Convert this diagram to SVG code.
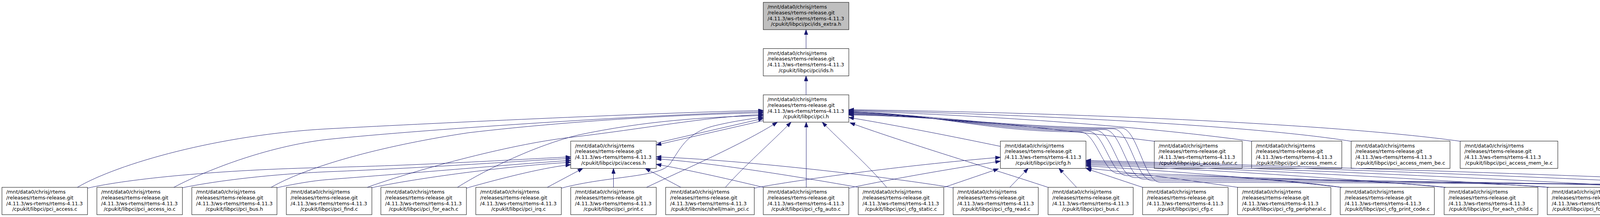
<svg xmlns="http://www.w3.org/2000/svg" width="4927" height="556" viewBox="0 0 4927 556">
<defs>
<style>
.node rect{fill:#ffffff;stroke:#000000;stroke-width:1}
.node text{font-family:"DejaVu Sans",sans-serif;font-size:12.85px;fill:#000000}
.node text.c{text-anchor:middle}
#edges path{fill:none;stroke:#191970;stroke-width:1;marker-end:url(#arr)}
</style>
<marker id="arr" markerUnits="userSpaceOnUse" markerWidth="15" markerHeight="11" refX="13" refY="4.65" orient="auto"><path d="M0,0L13,4.65L0,9.3z" fill="#191970" stroke="#191970" stroke-width="1"/></marker>
</defs>
<rect x="0" y="0" width="4927" height="556" fill="#ffffff"/>
<g id="nodes">
<g id="n_ids_extra_h" class="node"><rect x="1954" y="6" width="219" height="70" style="fill:#bfbfbf"/><text x="1965" y="22">/mnt/data0/chrisj/rtems</text><text x="1965" y="36.8">/releases/rtems-release.git</text><text x="1965" y="51.6">/4.11.3/ws-rtems/rtems-4.11.3</text><text class="c" x="2063.5" y="66.4">/cpukit/libpci/pci/ids_extra.h</text></g>
<g id="n_ids_h" class="node"><rect x="1954" y="124.5" width="219" height="70"/><text x="1965" y="140.5">/mnt/data0/chrisj/rtems</text><text x="1965" y="155.3">/releases/rtems-release.git</text><text x="1965" y="170.1">/4.11.3/ws-rtems/rtems-4.11.3</text><text class="c" x="2063.5" y="184.9">/cpukit/libpci/pci/ids.h</text></g>
<g id="n_pci_h" class="node"><rect x="1954" y="243" width="219" height="70"/><text x="1965" y="259">/mnt/data0/chrisj/rtems</text><text x="1965" y="273.8">/releases/rtems-release.git</text><text x="1965" y="288.6">/4.11.3/ws-rtems/rtems-4.11.3</text><text class="c" x="2063.5" y="303.4">/cpukit/libpci/pci.h</text></g>
<g id="n_access_h" class="node"><rect x="1461" y="361.5" width="219" height="70"/><text x="1472" y="377.5">/mnt/data0/chrisj/rtems</text><text x="1472" y="392.3">/releases/rtems-release.git</text><text x="1472" y="407.1">/4.11.3/ws-rtems/rtems-4.11.3</text><text class="c" x="1570.5" y="421.9">/cpukit/libpci/pci/access.h</text></g>
<g id="n_cfg_h" class="node"><rect x="2561" y="361.5" width="219" height="70"/><text x="2572" y="377.5">/mnt/data0/chrisj/rtems</text><text x="2572" y="392.3">/releases/rtems-release.git</text><text x="2572" y="407.1">/4.11.3/ws-rtems/rtems-4.11.3</text><text class="c" x="2670.5" y="421.9">/cpukit/libpci/pci/cfg.h</text></g>
<g id="n_pci_access_func_c" class="node"><rect x="2955" y="361.5" width="225" height="70"/><text x="2966" y="377.5">/mnt/data0/chrisj/rtems</text><text x="2966" y="392.3">/releases/rtems-release.git</text><text x="2966" y="407.1">/4.11.3/ws-rtems/rtems-4.11.3</text><text class="c" x="3067.5" y="421.9">/cpukit/libpci/pci_access_func.c</text></g>
<g id="n_pci_access_mem_c" class="node"><rect x="3204" y="361.5" width="231" height="70"/><text x="3215" y="377.5">/mnt/data0/chrisj/rtems</text><text x="3215" y="392.3">/releases/rtems-release.git</text><text x="3215" y="407.1">/4.11.3/ws-rtems/rtems-4.11.3</text><text class="c" x="3319.5" y="421.9">/cpukit/libpci/pci_access_mem.c</text></g>
<g id="n_pci_access_mem_be_c" class="node"><rect x="3459" y="361.5" width="253" height="70"/><text x="3470" y="377.5">/mnt/data0/chrisj/rtems</text><text x="3470" y="392.3">/releases/rtems-release.git</text><text x="3470" y="407.1">/4.11.3/ws-rtems/rtems-4.11.3</text><text class="c" x="3585.5" y="421.9">/cpukit/libpci/pci_access_mem_be.c</text></g>
<g id="n_pci_access_mem_le_c" class="node"><rect x="3738" y="361.5" width="250" height="70"/><text x="3749" y="377.5">/mnt/data0/chrisj/rtems</text><text x="3749" y="392.3">/releases/rtems-release.git</text><text x="3749" y="407.1">/4.11.3/ws-rtems/rtems-4.11.3</text><text class="c" x="3863" y="421.9">/cpukit/libpci/pci_access_mem_le.c</text></g>
<g id="n_pci_access_c" class="node"><rect x="5" y="480" width="219" height="70"/><text x="16" y="496">/mnt/data0/chrisj/rtems</text><text x="16" y="510.8">/releases/rtems-release.git</text><text x="16" y="525.6">/4.11.3/ws-rtems/rtems-4.11.3</text><text class="c" x="114.5" y="540.4">/cpukit/libpci/pci_access.c</text></g>
<g id="n_pci_access_io_c" class="node"><rect x="248" y="480" width="219" height="70"/><text x="259" y="496">/mnt/data0/chrisj/rtems</text><text x="259" y="510.8">/releases/rtems-release.git</text><text x="259" y="525.6">/4.11.3/ws-rtems/rtems-4.11.3</text><text class="c" x="357.5" y="540.4">/cpukit/libpci/pci_access_io.c</text></g>
<g id="n_pci_bus_h" class="node"><rect x="491" y="480" width="218" height="70"/><text x="502" y="496">/mnt/data0/chrisj/rtems</text><text x="502" y="510.8">/releases/rtems-release.git</text><text x="502" y="525.6">/4.11.3/ws-rtems/rtems-4.11.3</text><text class="c" x="600" y="540.4">/cpukit/libpci/pci_bus.h</text></g>
<g id="n_pci_find_c" class="node"><rect x="733" y="480" width="219" height="70"/><text x="744" y="496">/mnt/data0/chrisj/rtems</text><text x="744" y="510.8">/releases/rtems-release.git</text><text x="744" y="525.6">/4.11.3/ws-rtems/rtems-4.11.3</text><text class="c" x="842.5" y="540.4">/cpukit/libpci/pci_find.c</text></g>
<g id="n_pci_for_each_c" class="node"><rect x="975" y="480" width="219" height="70"/><text x="986" y="496">/mnt/data0/chrisj/rtems</text><text x="986" y="510.8">/releases/rtems-release.git</text><text x="986" y="525.6">/4.11.3/ws-rtems/rtems-4.11.3</text><text class="c" x="1084.5" y="540.4">/cpukit/libpci/pci_for_each.c</text></g>
<g id="n_pci_irq_c" class="node"><rect x="1218" y="480" width="219" height="70"/><text x="1229" y="496">/mnt/data0/chrisj/rtems</text><text x="1229" y="510.8">/releases/rtems-release.git</text><text x="1229" y="525.6">/4.11.3/ws-rtems/rtems-4.11.3</text><text class="c" x="1327.5" y="540.4">/cpukit/libpci/pci_irq.c</text></g>
<g id="n_pci_print_c" class="node"><rect x="1461" y="480" width="219" height="70"/><text x="1472" y="496">/mnt/data0/chrisj/rtems</text><text x="1472" y="510.8">/releases/rtems-release.git</text><text x="1472" y="525.6">/4.11.3/ws-rtems/rtems-4.11.3</text><text class="c" x="1570.5" y="540.4">/cpukit/libpci/pci_print.c</text></g>
<g id="n_main_pci_c" class="node"><rect x="1704" y="480" width="227" height="70"/><text x="1715.5" y="496">/mnt/data0/chrisj/rtems</text><text x="1715.5" y="510.8">/releases/rtems-release.git</text><text x="1715.5" y="525.6">/4.11.3/ws-rtems/rtems-4.11.3</text><text class="c" x="1817.5" y="540.4">/cpukit/libmisc/shell/main_pci.c</text></g>
<g id="n_pci_cfg_auto_c" class="node"><rect x="1954" y="480" width="219" height="70"/><text x="1965" y="496">/mnt/data0/chrisj/rtems</text><text x="1965" y="510.8">/releases/rtems-release.git</text><text x="1965" y="525.6">/4.11.3/ws-rtems/rtems-4.11.3</text><text class="c" x="2063.5" y="540.4">/cpukit/libpci/pci_cfg_auto.c</text></g>
<g id="n_pci_cfg_static_c" class="node"><rect x="2197" y="480" width="219" height="70"/><text x="2208" y="496">/mnt/data0/chrisj/rtems</text><text x="2208" y="510.8">/releases/rtems-release.git</text><text x="2208" y="525.6">/4.11.3/ws-rtems/rtems-4.11.3</text><text class="c" x="2306.5" y="540.4">/cpukit/libpci/pci_cfg_static.c</text></g>
<g id="n_pci_cfg_read_c" class="node"><rect x="2440" y="480" width="218" height="70"/><text x="2451" y="496">/mnt/data0/chrisj/rtems</text><text x="2451" y="510.8">/releases/rtems-release.git</text><text x="2451" y="525.6">/4.11.3/ws-rtems/rtems-4.11.3</text><text class="c" x="2549" y="540.4">/cpukit/libpci/pci_cfg_read.c</text></g>
<g id="n_pci_bus_c" class="node"><rect x="2683" y="480" width="218" height="70"/><text x="2694" y="496">/mnt/data0/chrisj/rtems</text><text x="2694" y="510.8">/releases/rtems-release.git</text><text x="2694" y="525.6">/4.11.3/ws-rtems/rtems-4.11.3</text><text class="c" x="2792" y="540.4">/cpukit/libpci/pci_bus.c</text></g>
<g id="n_pci_cfg_c" class="node"><rect x="2925" y="480" width="219" height="70"/><text x="2936" y="496">/mnt/data0/chrisj/rtems</text><text x="2936" y="510.8">/releases/rtems-release.git</text><text x="2936" y="525.6">/4.11.3/ws-rtems/rtems-4.11.3</text><text class="c" x="3034.5" y="540.4">/cpukit/libpci/pci_cfg.c</text></g>
<g id="n_pci_cfg_peripheral_c" class="node"><rect x="3168" y="480" width="239" height="70"/><text x="3179.5" y="496">/mnt/data0/chrisj/rtems</text><text x="3179.5" y="510.8">/releases/rtems-release.git</text><text x="3179.5" y="525.6">/4.11.3/ws-rtems/rtems-4.11.3</text><text class="c" x="3287.5" y="540.4">/cpukit/libpci/pci_cfg_peripheral.c</text></g>
<g id="n_pci_cfg_print_code_c" class="node"><rect x="3431" y="480" width="241" height="70"/><text x="3442.5" y="496">/mnt/data0/chrisj/rtems</text><text x="3442.5" y="510.8">/releases/rtems-release.git</text><text x="3442.5" y="525.6">/4.11.3/ws-rtems/rtems-4.11.3</text><text class="c" x="3551.5" y="540.4">/cpukit/libpci/pci_cfg_print_code.c</text></g>
<g id="n_pci_for_each_child_c" class="node"><rect x="3697" y="480" width="240" height="70"/><text x="3708.5" y="496">/mnt/data0/chrisj/rtems</text><text x="3708.5" y="510.8">/releases/rtems-release.git</text><text x="3708.5" y="525.6">/4.11.3/ws-rtems/rtems-4.11.3</text><text class="c" x="3817" y="540.4">/cpukit/libpci/pci_for_each_child.c</text></g>
<g id="n_pci_for_each_dev_c" class="node"><rect x="3961" y="480" width="233" height="70"/><text x="3972.5" y="496">/mnt/data0/chrisj/rtems</text><text x="3972.5" y="510.8">/releases/rtems-release.git</text><text x="3972.5" y="525.6">/4.11.3/ws-rtems/rtems-4.11.3</text><text class="c" x="4077.5" y="540.4">/cpukit/libpci/pci_for_each_dev.c</text></g>
<g id="n_pci_dev_create_c" class="node"><rect x="4218" y="480" width="220" height="70"/><text x="4229" y="496">/mnt/data0/chrisj/rtems</text><text x="4229" y="510.8">/releases/rtems-release.git</text><text x="4229" y="525.6">/4.11.3/ws-rtems/rtems-4.11.3</text><text class="c" x="4328" y="540.4">/cpukit/libpci/pci_dev_create.c</text></g>
<g id="n_pci_find_dev_c" class="node"><rect x="4462" y="480" width="220" height="70"/><text x="4473" y="496">/mnt/data0/chrisj/rtems</text><text x="4473" y="510.8">/releases/rtems-release.git</text><text x="4473" y="525.6">/4.11.3/ws-rtems/rtems-4.11.3</text><text class="c" x="4572" y="540.4">/cpukit/libpci/pci_find_dev.c</text></g>
<g id="n_pci_get_dev_c" class="node"><rect x="4706" y="480" width="218" height="70"/><text x="4717" y="496">/mnt/data0/chrisj/rtems</text><text x="4717" y="510.8">/releases/rtems-release.git</text><text x="4717" y="525.6">/4.11.3/ws-rtems/rtems-4.11.3</text><text class="c" x="4815" y="540.4">/cpukit/libpci/pci_get_dev.c</text></g>
</g>
<g id="edges">
<path d="M2063.5,124.5L2063.5,76"/>
<path d="M2063.5,243L2063.5,194.5"/>
<path d="M198,480C300,420 560,345 840,330C1140,314 1700,288 1954,283"/>
<path d="M445,480C520,440 680,375 840,357C1100,330 1700,292 1954,286"/>
<path d="M694,480C800,420 1000,370 1200,340C1500,305 1800,292 1954,289"/>
<path d="M940,480C1050,440 1300,370 1460,352C1650,330 1800,300 1954,293"/>
<path d="M1171,480C1250,430 1380,370 1480,346C1650,310 1800,300 1954,296"/>
<path d="M1437,482C1560,450 1690,455 1715,420C1740,385 1755,340 1830,322C1880,310 1920,305 1954,300"/>
<path d="M1682,366L1954,303.5"/>
<path d="M1954,309L1680,371.5"/>
<path d="M224,482C330,458 560,435 840,429C1100,423 1350,407 1461,402"/>
<path d="M467,481C560,462 700,446 840,440C1100,430 1350,411 1461,406"/>
<path d="M709,481C750,472 800,463 840,460C1100,440 1350,418 1461,411"/>
<path d="M951,481C1100,450 1350,421 1461,416"/>
<path d="M1194,482C1300,452 1400,428 1461,422"/>
<path d="M1401,480L1492,431.5"/>
<path d="M1570.5,480L1570.5,431.5"/>
<path d="M1743,480L1652,431.5"/>
<path d="M1954,480C1850,455 1750,433 1680,421"/>
<path d="M2197,480C2000,445 1800,415 1680,407"/>
<path d="M2440,481C2250,450 1900,410 1680,402"/>
<path d="M1655,480C1750,435 1900,370 1990,313"/>
<path d="M1857,480C1900,430 1980,360 2025,313"/>
<path d="M2064,480L2064,313"/>
<path d="M2270,480C2220,420 2150,360 2105,313"/>
<path d="M2683,480C2500,420 2300,360 2176,314.5"/>
<path d="M2561,375C2450,352 2300,322 2173,301"/>
<path d="M2956,362C2700,330 2400,298 2173,285.5"/>
<path d="M3205,362C2900,320 2500,295 2173,284"/>
<path d="M3459,362C3200,320 2600,292 2173,282.5"/>
<path d="M3739,362C3400,315 2700,288 2173,281"/>
<path d="M3435,480C3285,459 3065,445 2865,445C2823,445 2807,338 2765,338C2515,338 2400,290 2173,287"/>
<path d="M3701,480C3551,462 3085,450 2885,450C2843,450 2827,336 2785,336C2535,336 2400,291.5 2173,288.5"/>
<path d="M3965,480C3815,465 3105,455 2905,455C2863,455 2847,334 2805,334C2555,334 2400,293 2173,290"/>
<path d="M4222,480C4072,467 3128,459 2928,459C2886,459 2870,332 2828,332C2578,332 2400,294.5 2173,291.5"/>
<path d="M4466,480C4316,470 3150,463 2950,463C2908,463 2892,330 2850,330C2600,330 2400,296 2173,293"/>
<path d="M4710,480C4560,472 3170,467 2970,467C2928,467 2912,328 2870,328C2620,328 2400,297.5 2173,294.5"/>
<path d="M1930,482C2050,460 2300,425 2561,403"/>
<path d="M2173,482C2300,455 2450,430 2561,413"/>
<path d="M2417,480L2556,432.5"/>
<path d="M2585,480L2632,431.5"/>
<path d="M2756,480L2711,431.5"/>
<path d="M2925,480L2781,432"/>
<path d="M3169,480C3050,463 2900,442 2781,431"/>
<path d="M3433,480C3250,458 2950,435 2780,425"/>
<path d="M3699,480C3420,455 3050,432 2780,422"/>
<path d="M3963,480C3600,455 3100,430 2780,419"/>
<path d="M4220,480C3800,455 3150,428 2780,416"/>
<path d="M4464,480C4000,453 3200,426 2780,413.5"/>
<path d="M4708,480C4200,452 3250,424 2780,411"/>
</g>
</svg>
